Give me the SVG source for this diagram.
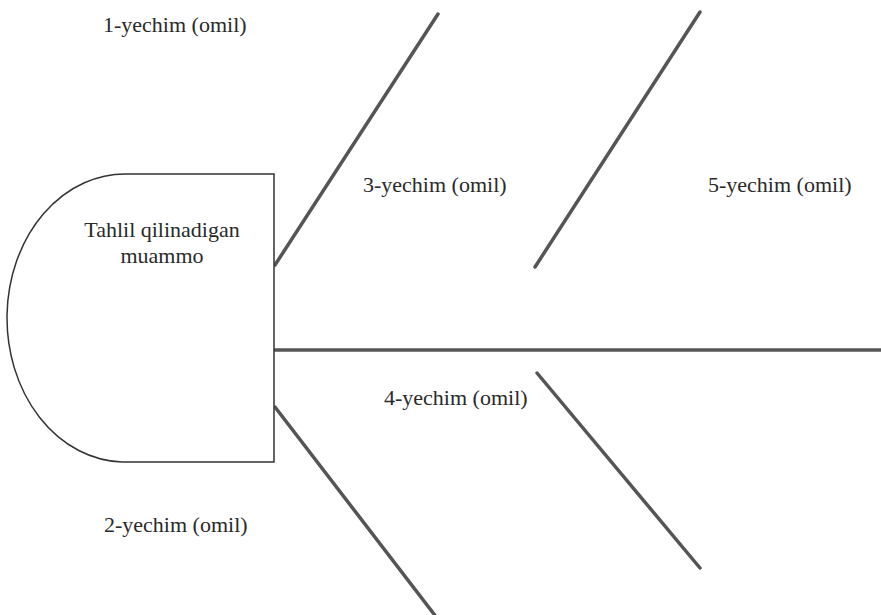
<svg xmlns="http://www.w3.org/2000/svg" width="881" height="615" viewBox="0 0 881 615">
<style>
  .lbl { font-family: 'Liberation Serif', 'Times New Roman', Times, serif; font-size: 22px; fill: #2a2a2a; }
  .bone { stroke: #555; stroke-width: 3.5; stroke-linecap: round; fill: none; }
  .head { stroke: #333; stroke-width: 1.5; fill: #fff; }
</style>
<rect width="881" height="615" fill="#fff"/>
<g id="connectors">
  <line class="bone" x1="274" y1="350" x2="881" y2="350"/>
  <line class="bone" x1="275" y1="265" x2="438" y2="14"/>
  <line class="bone" x1="535" y1="267" x2="700" y2="12"/>
  <line class="bone" x1="275" y1="407" x2="437" y2="618"/>
  <line class="bone" x1="537" y1="373" x2="700" y2="568"/>
</g>
<g id="problem">
  <path class="head" d="M274,174 L128,174 A118,144 0 0 0 122,462 L274,462 Z"/>
  <text class="lbl" font-family="Liberation Serif, serif" x="162" y="237" text-anchor="middle">Tahlil qilinadigan</text>
  <text class="lbl" font-family="Liberation Serif, serif" x="162" y="263" text-anchor="middle">muammo</text>
</g>
<g id="cause1"><text class="lbl" font-family="Liberation Serif, serif" x="103" y="32">1-yechim (omil)</text></g>
<g id="cause2"><text class="lbl" font-family="Liberation Serif, serif" x="104" y="532">2-yechim (omil)</text></g>
<g id="cause3"><text class="lbl" font-family="Liberation Serif, serif" x="363" y="192">3-yechim (omil)</text></g>
<g id="cause4"><text class="lbl" font-family="Liberation Serif, serif" x="384" y="405">4-yechim (omil)</text></g>
<g id="cause5"><text class="lbl" font-family="Liberation Serif, serif" x="708" y="192">5-yechim (omil)</text></g>
</svg>
